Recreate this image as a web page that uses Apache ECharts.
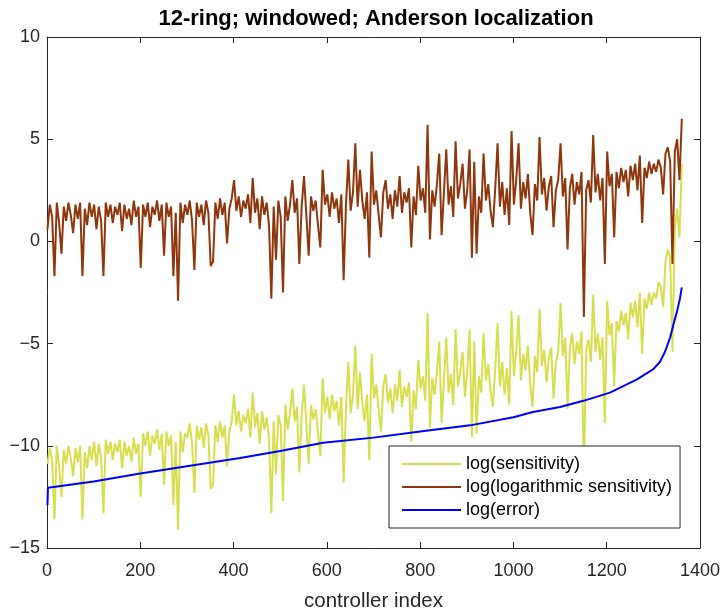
<!DOCTYPE html>
<html>
<head>
<meta charset="utf-8">
<title>12-ring; windowed; Anderson localization</title>
<script src="https://cdn.jsdelivr.net/npm/echarts@6/dist/echarts.min.js"></script>
<style>
  html, body { margin: 0; padding: 0; background: #fff; }
  #chart { width: 724px; height: 613px; }
</style>
</head>
<body>
<div id="chart"></div>
<script>
// samples every 5 controllers, starting at controller 1
const indexStart = 1
const indexStep = 5

// log(sensitivity)
const logSens = [
  -10.9, -10.1, -10.7, -13.6, -10.0, -11.0, -12.5, -10.2, -10.9, -10.0, -10.6, -11.5, -10.1, -10.8, -10.0, -13.6, -10.3, -11.1, -10.0, -10.7,
  -9.8, -11.0, -9.9, -10.6, -13.3, -9.7, -10.4, -9.8, -10.7, -9.9, -10.3, -9.7, -11.1, -9.8, -10.5, -10.0, -10.8, -9.6, -10.4, -9.9,
  -12.5, -9.4, -10.0, -9.3, -10.5, -9.5, -9.9, -9.2, -10.2, -9.4, -11.9, -9.3, -10.0, -9.5, -12.9, -9.8, -14.1, -9.3, -10.3, -9.4,
  -9.6, -8.9, -9.9, -12.3, -9.0, -9.7, -9.1, -10.1, -8.9, -9.5, -12.1, -11.9, -9.0, -9.8, -8.8, -9.6, -9.0, -11.0, -9.3, -8.8,
  -7.5, -9.0, -8.3, -9.3, -8.5, -8.9, -8.2, -9.6, -7.4, -9.1, -8.4, -9.9, -8.3, -9.2, -8.6, -9.7, -13.3, -8.8, -11.4, -8.5,
  -9.0, -12.7, -8.0, -9.2, -8.4, -7.2, -8.8, -8.1, -11.3, -8.5, -7.0, -8.9, -10.9, -8.0, -8.7, -8.2, -9.4, -10.5, -6.7, -8.4,
  -7.6, -8.7, -7.5, -8.3, -7.8, -9.0, -7.6, -11.8, -8.1, -5.9, -8.4, -7.5, -5.1, -8.2, -6.4, -7.9, -8.8, -7.5, -10.7, -5.5,
  -7.7, -7.0, -8.2, -9.3, -7.1, -6.5, -7.9, -7.2, -8.4, -7.0, -7.8, -6.3, -8.1, -7.1, -7.6, -6.9, -9.8, -7.3, -8.2, -5.8,
  -7.2, -6.6, -7.8, -3.5, -9.1, -6.7, -7.5, -6.4, -4.9, -8.9, -6.8, -4.7, -7.4, -6.5, -8.0, -4.3, -7.1, -6.4, -5.4, -7.6,
  -6.3, -4.3, -9.6, -4.9, -9.4, -6.6, -7.4, -4.5, -6.8, -6.0, -7.3, -8.1, -6.2, -4.0, -7.1, -5.9, -7.5, -6.2, -8.0, -3.4,
  -6.6, -5.4, -3.6, -6.8, -5.5, -6.3, -5.1, -7.0, -8.1, -5.6, -6.4, -3.3, -6.1, -5.3, -6.9, -5.7, -5.2, -7.7, -5.9, -5.4,
  -3.0, -5.6, -4.7, -8.2, -5.2, -4.5, -6.0, -4.9, -5.5, -4.4, -11.5, -5.3, -4.8, -5.9, -2.6, -5.4, -4.5, -5.8, -4.7, -8.9,
  -2.9, -4.6, -4.0, -7.1, -3.9, -4.4, -3.4, -4.1, -3.5, -4.8, -3.0, -3.7, -2.9, -4.2, -2.5, -5.5, -2.8, -3.3, -2.5, -3.1,
  -2.5, -2.8, -2.0, -2.2, -3.2, -1.0, -0.4, -0.8, -5.4, 0.6, 1.6, 0.2, 3.8
]

// log(logarithmic sensitivity)
const logLogSens = [
  0.6, 1.8, 1.2, -1.7, 1.9, 0.9, -0.6, 1.7, 1.0, 1.9, 1.3, 0.4, 1.8, 1.1, 1.9, -1.7, 1.6, 0.8, 1.9, 1.2,
  1.8, 0.6, 1.7, 1.0, -1.7, 1.9, 1.2, 1.8, 0.9, 1.7, 1.3, 1.9, 0.5, 1.8, 1.1, 1.6, 0.8, 2.0, 1.2, 1.7,
  -1.3, 1.8, 1.2, 1.9, 0.7, 1.7, 1.3, 2.0, 1.0, 1.8, -0.7, 1.9, 1.2, 1.7, -1.7, 1.4, -2.9, 1.9, 0.9, 1.8,
  1.3, 2.0, 1.0, -1.4, 1.9, 1.2, 1.8, 0.8, 2.0, 1.4, -1.2, -1.0, 1.9, 1.1, 2.1, 1.3, 1.9, -0.1, 1.6, 2.1,
  3.0, 1.5, 2.2, 1.2, 2.0, 1.6, 2.3, 0.9, 3.1, 1.4, 2.1, 0.6, 2.2, 1.3, 1.9, 0.8, -2.8, 1.7, -0.9, 2.0,
  1.2, -2.5, 2.2, 1.0, 1.8, 3.0, 1.4, 2.1, -1.1, 1.7, 3.2, 1.3, -0.7, 2.2, 1.5, 2.0, 0.8, -0.3, 3.5, 1.8,
  2.3, 1.2, 2.4, 1.6, 2.1, 0.9, 2.3, -1.9, 1.8, 4.0, 1.5, 2.4, 4.8, 1.7, 3.5, 2.0, 1.1, 2.4, -0.8, 4.4,
  1.8, 2.5, 1.3, 0.2, 2.4, 3.0, 1.6, 2.3, 1.1, 2.5, 1.7, 3.2, 1.4, 2.4, 1.9, 2.6, -0.3, 2.2, 1.3, 3.7,
  2.0, 2.6, 1.4, 5.7, 0.1, 2.5, 1.7, 2.8, 4.3, 0.3, 2.4, 4.5, 1.8, 2.7, 1.2, 4.9, 2.1, 2.8, 3.8, 1.6,
  2.5, 4.5, -0.8, 3.9, -0.6, 2.2, 1.4, 4.3, 2.0, 2.8, 1.5, 0.7, 2.6, 4.8, 1.7, 2.9, 1.3, 2.6, 0.8, 5.4,
  1.8, 3.0, 4.8, 1.6, 2.9, 2.1, 3.3, 1.4, 0.3, 2.8, 2.0, 5.1, 2.3, 3.1, 1.5, 2.7, 3.2, 0.7, 2.5, 3.0,
  4.8, 2.2, 3.1, -0.4, 2.6, 3.3, 1.8, 2.9, 2.3, 3.4, -3.7, 2.5, 3.0, 1.9, 5.2, 2.4, 3.3, 2.0, 3.1, -1.1,
  4.4, 2.7, 3.3, 0.2, 3.4, 2.6, 3.6, 2.9, 3.5, 2.2, 3.7, 3.0, 3.8, 2.5, 4.2, 0.9, 3.6, 3.1, 3.9, 3.3,
  3.8, 3.4, 4.0, 3.6, 2.3, 4.3, 4.6, 3.9, -1.1, 4.4, 5.0, 3.0, 6.0
]

// log(error) is smooth, so it is read at a few controller indices
const errIndex = [1, 2, 100, 200, 300, 414, 500, 592, 700, 800, 907, 1000, 1042, 1100, 1150, 1207, 1265, 1300, 1314, 1325, 1336, 1345, 1351, 1357, 1361]
const logError = [-12.9, -12.05, -11.75, -11.35, -11.0, -10.6, -10.25, -9.85, -9.6, -9.3, -9.0, -8.6, -8.35, -8.1, -7.8, -7.4, -6.75, -6.25, -5.9, -5.4, -4.7, -3.9, -3.4, -2.8, -2.25]

const seriesNames = ['log(sensitivity)', 'log(logarithmic sensitivity)', 'log(error)']
const xRange = [0, 1400, 200]
const yRange = [-15, 10, 5]

const FONT = "'Liberation Sans', Arial, Helvetica, sans-serif"
const AXIS_COLOR = '#262626'

const sampled = (vals) => vals.map((v, i) => [indexStart + i * indexStep, v])

const chart = echarts.init(document.getElementById('chart'))

const boxAxis = (isX, pos, showLabel) => ({
  type: 'value',
  position: pos,
  min: isX ? xRange[0] : yRange[0],
  max: isX ? xRange[1] : yRange[1],
  interval: isX ? xRange[2] : yRange[2],
  axisLine: { show: true, onZero: false, lineStyle: { color: AXIS_COLOR, width: 1 } },
  axisTick: { show: true, inside: true, length: 6, lineStyle: { color: AXIS_COLOR } },
  splitLine: { show: false },
  axisLabel: {
    show: showLabel,
    color: AXIS_COLOR,
    fontFamily: FONT,
    fontSize: 18,
    margin: isX ? 14 : 7,
    // plain numbers, minus sign instead of hyphen
    formatter: (v) => (v < 0 ? '\u2212' + Math.abs(v) : String(v))
  }
})

const xBottom = boxAxis(true, 'bottom', true)
xBottom.name = 'controller index'
xBottom.nameLocation = 'middle'
xBottom.nameGap = 43
xBottom.nameTextStyle = { color: AXIS_COLOR, fontFamily: FONT, fontSize: 20.5 }

const option = {
  animation: false,
  backgroundColor: '#fff',
  title: {
    text: '12-ring; windowed; Anderson localization',
    left: 371,
    top: 3,
    textAlign: 'center',
    textStyle: { fontFamily: FONT, fontSize: 22, fontWeight: 'bold', color: '#000' }
  },
  // fixed plot box; do not let labels push it around
  grid: { left: 47, right: 24, top: 37, bottom: 65, outerBoundsMode: 'none' },
  legend: {
    data: seriesNames,
    orient: 'vertical',
    left: 389,
    top: 446,
    icon: 'rect',
    itemWidth: 59,
    itemHeight: 2,
    itemGap: 5,
    padding: [9, 8, 9, 13],
    backgroundColor: '#fff',
    borderColor: AXIS_COLOR,
    borderWidth: 1,
    borderRadius: 0,
    textStyle: { fontFamily: FONT, fontSize: 18, lineHeight: 18, color: '#000' }
  },
  xAxis: [xBottom, boxAxis(true, 'top', false)],
  yAxis: [boxAxis(false, 'left', true), boxAxis(false, 'right', false)],
  series: [
    {
      name: seriesNames[0],
      type: 'line',
      data: sampled(logSens),
      showSymbol: false,
      color: '#d6df4e',
      lineStyle: { width: 2 }
    },
    {
      name: seriesNames[1],
      type: 'line',
      data: sampled(logLogSens),
      showSymbol: false,
      color: '#8f360c',
      lineStyle: { width: 2 }
    },
    {
      name: seriesNames[2],
      type: 'line',
      data: errIndex.map((x, i) => [x, logError[i]]),
      showSymbol: false,
      color: '#0000ff',
      lineStyle: { width: 2 }
    }
  ]
}

chart.setOption(option)
</script>
</body>
</html>
